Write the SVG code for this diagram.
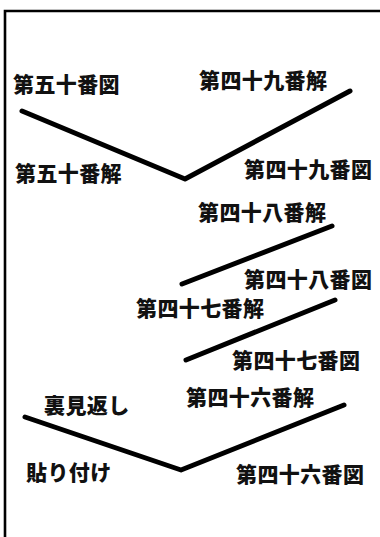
<svg xmlns="http://www.w3.org/2000/svg" width="380" height="537" viewBox="0 0 380 537">
<style>
.t{font-family:"Noto Sans CJK JP","Noto Sans CJK SC",sans-serif;font-weight:900;font-size:21px;letter-spacing:0.4px;fill:#111}
.ln{fill:none;stroke:#000;stroke-width:5;stroke-linecap:round;stroke-linejoin:round}
.fr{fill:none;stroke:#000;stroke-width:2.6}
</style>
<rect width="380" height="537" fill="#fff"/>
<path class="fr" d="M5,537 V11 H380"/>
<g id="connectors">
<polyline class="ln" points="22,111 185,179 350,91"/>
<line class="ln" x1="182" y1="284" x2="332" y2="226"/>
<line class="ln" x1="186" y1="360" x2="335" y2="300"/>
<polyline class="ln" points="25,417 181,470 344,405"/>
</g>
<g id="n50zu"><text class="t" x="13" y="92">第五十番図</text></g>
<g id="n49kai"><text class="t" x="199" y="88">第四十九番解</text></g>
<g id="n50kai"><text class="t" x="15" y="181">第五十番解</text></g>
<g id="n49zu"><text class="t" x="244" y="177">第四十九番図</text></g>
<g id="n48kai"><text class="t" x="198" y="220">第四十八番解</text></g>
<g id="n48zu"><text class="t" x="244" y="287">第四十八番図</text></g>
<g id="n47kai"><text class="t" x="136" y="316">第四十七番解</text></g>
<g id="n47zu"><text class="t" x="232" y="368">第四十七番図</text></g>
<g id="n46kai"><text class="t" x="186" y="405">第四十六番解</text></g>
<g id="urami"><text class="t" x="44" y="413">裏見返し</text></g>
<g id="haritsuke"><text class="t" x="26" y="480">貼り付け</text></g>
<g id="n46zu"><text class="t" x="236" y="482">第四十六番図</text></g>
</svg>
